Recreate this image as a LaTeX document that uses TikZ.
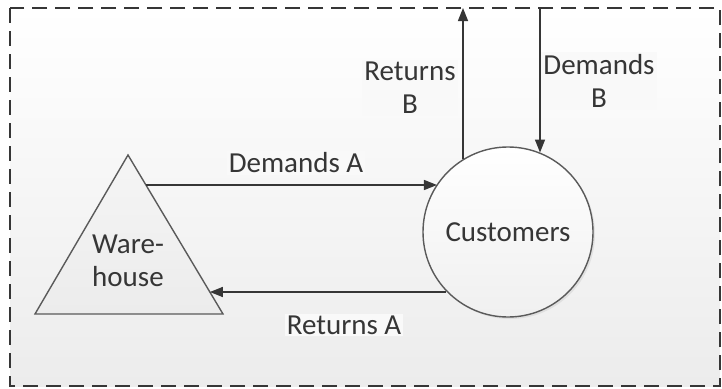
\documentclass[tikz,border=0pt]{standalone}
\usepackage{fontspec}
\setmainfont{Carlito}
\usetikzlibrary{arrows.meta,shadows}
\definecolor{ink}{HTML}{363636}
\definecolor{edge}{HTML}{5A5A5A}
\definecolor{bgbot}{HTML}{ECECEC}
\tikzset{
  lbl/.style={font=\fontsize{29}{33}\selectfont, text=ink, align=center, fill=white!70!bgbot, inner sep=2pt},
  flow/.style={draw=ink, line width=1.4pt, -{Triangle[length=13pt,width=10pt]}},
  frame/.style={draw=ink, line width=2pt, dash pattern=on 15pt off 8pt},
}
\begin{document}
\begin{tikzpicture}[x=1pt,y=-1pt]
\useasboundingbox (0,0) rectangle (722,388);
\fill[white] (0,0) rectangle (722,388);
\shade[top color=white, bottom color=bgbot] (10,8) rectangle (720,386);
\draw[frame] (10,8) rectangle (720,386);
% warehouse triangle
\coordinate (apex) at (128,155);
\coordinate (bl) at (35,314);
\coordinate (br) at (223,314);
\shade[top color=white!96!black, bottom color=bgbot, draw=edge, line width=1.4pt] (apex) -- (br) -- (bl) -- cycle;
\node[lbl, fill=none] (wh) at (128,261) {Ware-\\house};
\path (apex) -- (br) coordinate[pos=0.1887] (daS) coordinate[pos=0.8616] (raE);
% customers
\node[circle, minimum size=170pt, inner sep=0pt, draw=edge, line width=1.4pt,
      top color=white, bottom color=white!94!black, drop shadow={opacity=0.15, shadow xshift=2pt, shadow yshift=-2pt},
      font=\fontsize{29}{33}\selectfont, text=ink] (cust) at (508,232) {Customers};
% labels
\node[lbl] (la) at (296,163) {Demands A};
\node[lbl] (lra) at (344,325) {Returns A};
\node[lbl] (lrb) at (410,88) {Returns\\B};
\node[lbl] (ldb) at (599,81) {Demands\\B};
% top coordinates
\coordinate (rbT) at (463,8);
\coordinate (dbT) at (540,8);
% flows
\draw[flow] (daS) -- (daS -| cust.146.4);
\draw[flow] (raE -| cust.224.9) -- (raE);
\draw[flow] (rbT |- cust.122) -- (rbT);
\draw[flow] (dbT) -- (dbT |- cust.68);
\end{tikzpicture}
\end{document}
